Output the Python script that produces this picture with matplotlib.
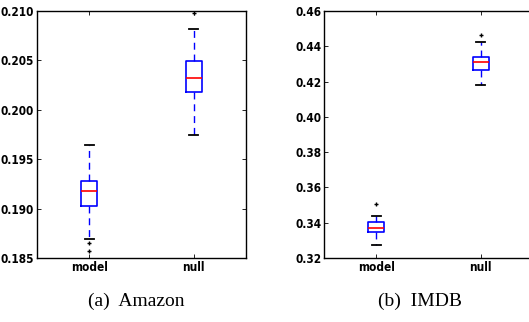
import matplotlib
matplotlib.use("Agg")
import matplotlib.pyplot as plt

labels = ["model", "null"]

# Amazon: (whislo, q1, med, q3, whishi, fliers)
amazon_stats = [
    (0.18692, 0.19029, 0.19174, 0.19282, 0.19642, [0.18648, 0.18567]),
    (0.19747, 0.20178, 0.20319, 0.20495, 0.20818, [0.20976]),
]
amazon_ylim = (0.185, 0.210)
amazon_ticks = [0.185, 0.190, 0.195, 0.200, 0.205, 0.210]

# IMDB
imdb_stats = [
    (0.32717, 0.33453, 0.33679, 0.34038, 0.34359, [0.35075]),
    (0.41811, 0.42660, 0.43132, 0.43415, 0.44245, [0.44660]),
]
imdb_ylim = (0.32, 0.46)
imdb_ticks = [0.32, 0.34, 0.36, 0.38, 0.40, 0.42, 0.44, 0.46]

captions = ["(a)  Amazon", "(b)  IMDB"]

tick_font = dict(family="DejaVu Sans", stretch="condensed", weight="bold", size=8.5)

fig = plt.figure(figsize=(5.29, 3.22), dpi=100)
W, H = 529, 322
ax1 = fig.add_axes([37 / W, 1 - 258 / H, 209 / W, 247 / H])
ax2 = fig.add_axes([324 / W, 1 - 258 / H, 209 / W, 247 / H])


def draw(ax, stats, ylim, ticks, fmt):
    bxp_stats = []
    for lab, s in zip(labels, stats):
        bxp_stats.append(dict(label=lab, whislo=s[0], q1=s[1], med=s[2],
                              q3=s[3], whishi=s[4], fliers=s[5]))
    ax.bxp(bxp_stats, positions=[1, 2], widths=0.15, capwidths=0.09,
           boxprops=dict(color="blue", linewidth=1.2),
           medianprops=dict(color="red", linewidth=1.2),
           whiskerprops=dict(color="blue", linewidth=1.0, dashes=(5, 3.5)),
           capprops=dict(color="black", linewidth=1.3),
           flierprops=dict(marker="+", markeredgecolor="black",
                           markersize=3, markeredgewidth=1.0, linestyle="none"))
    ax.set_xlim(0.5, 2.5)
    ax.set_ylim(*ylim)
    ax.set_yticks(ticks)
    ax.set_yticklabels([fmt % t for t in ticks], **tick_font)
    ax.set_xticks([1, 2])
    ax.set_xticklabels(labels, **tick_font)
    ax.tick_params(direction="in", length=3, width=0.6, top=True, right=True, pad=2)
    for sp in ax.spines.values():
        sp.set_linewidth(1.0)


draw(ax1, amazon_stats, amazon_ylim, amazon_ticks, "%.3f")
draw(ax2, imdb_stats, imdb_ylim, imdb_ticks, "%.2f")

cap_font = dict(family=["Liberation Serif", "DejaVu Serif"], size=14)
fig.text(136 / W, 1 - 301 / H, captions[0], ha="center", va="center", **cap_font)
fig.text(420 / W, 1 - 301 / H, captions[1], ha="center", va="center", **cap_font)

fig.savefig("out.png", dpi=100)
